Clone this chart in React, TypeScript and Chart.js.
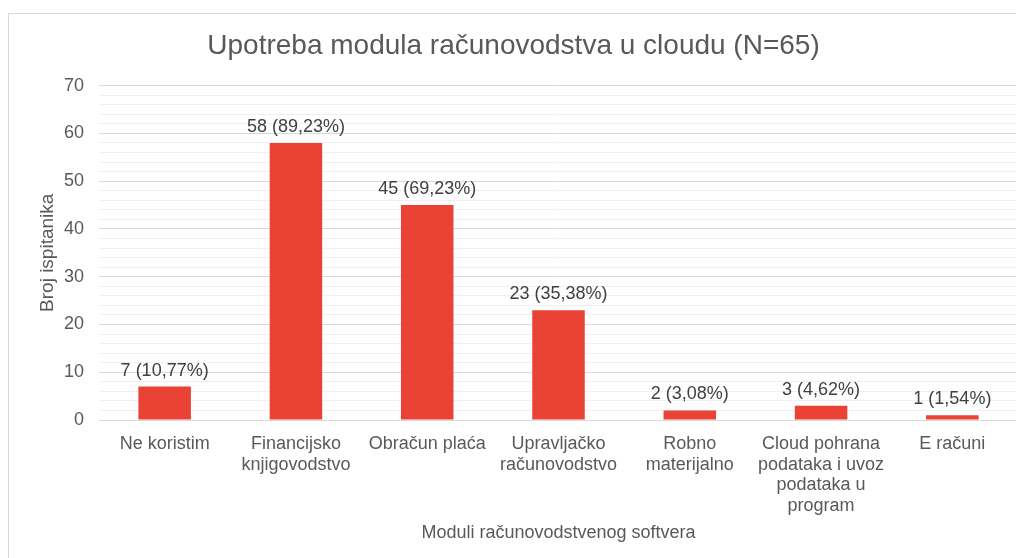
import React, { useEffect, useRef } from "react";
import { Chart, registerables } from "chart.js";

Chart.register(...registerables);

const categories: string[][] = [
  ["Ne koristim"],
  ["Financijsko", "knjigovodstvo"],
  ["Obračun plaća"],
  ["Upravljačko", "računovodstvo"],
  ["Robno", "materijalno"],
  ["Cloud pohrana", "podataka i uvoz", "podataka u", "program"],
  ["E računi"],
];
const counts: number[] = [7, 58, 45, 23, 2, 3, 1];
const percents: string[] = ["10,77%", "89,23%", "69,23%", "35,38%", "3,08%", "4,62%", "1,54%"];
const titleText = "Upotreba modula računovodstva u cloudu (N=65)";
const yTitle = "Broj ispitanika";
const xTitle = "Moduli računovodstvenog softvera";

const FONT = "'Liberation Sans', Arial, sans-serif";
const GRAY = "#595959";

const labelPlugin = {
  id: "barLabels",
  afterDatasetsDraw(chart: any) {
    const ctx = chart.ctx;
    const meta = chart.getDatasetMeta(0);
    ctx.save();
    ctx.font = `18px ${FONT}`;
    ctx.fillStyle = "#404040";
    ctx.textAlign = "center";
    ctx.textBaseline = "alphabetic";
    meta.data.forEach((bar: any, i: number) => {
      ctx.fillText(`${counts[i]} (${percents[i]})`, bar.x, bar.y - 11);
    });
    ctx.restore();
  },
};

export default function App() {
  const ref = useRef<HTMLCanvasElement | null>(null);
  useEffect(() => {
    if (!ref.current) return;
    const chart = new Chart(ref.current, {
      type: "bar",
      data: {
        labels: categories,
        datasets: [
          {
            data: counts,
            backgroundColor: "#EA4335",
            barPercentage: 0.4,
            categoryPercentage: 1,
          },
        ],
      },
      options: {
        animation: false,
        responsive: false,
        maintainAspectRatio: false,
        layout: { padding: { left: 0, right: 6, top: 0, bottom: 0 } },
        plugins: {
          legend: { display: false },
          tooltip: { enabled: false },
          title: {
            display: true,
            text: titleText,
            color: GRAY,
            font: { family: FONT, size: 28, weight: "normal" },
            padding: { top: 15, bottom: 23 },
          },
        },
        scales: {
          x: {
            grid: { display: false },
            border: { display: false },
            ticks: {
              color: GRAY,
              font: { family: FONT, size: 18, lineHeight: 1.14 },
              padding: 6,
              maxRotation: 0,
              autoSkip: false,
            },
            title: {
              display: true,
              text: xTitle,
              color: GRAY,
              font: { family: FONT, size: 18 },
              padding: { top: 4, bottom: 14 },
            },
            afterFit: (s: any) => {
              s.height = 138;
            },
          },
          y: {
            min: 0,
            max: 70,
            border: { display: false },
            grid: {
              drawTicks: false,
              color: (c: any) => (c.tick && c.tick.value % 10 === 0 ? "#d9d9d9" : "#f0f0f0"),
              lineWidth: 1,
            },
            ticks: {
              stepSize: 2,
              color: GRAY,
              font: { family: FONT, size: 18 },
              padding: 15,
              autoSkip: false,
              callback: (v: any) => (Number(v) % 10 === 0 ? String(v) : ""),
            },
            title: {
              display: true,
              text: yTitle,
              color: GRAY,
              font: { family: FONT, size: 19 },
              padding: { top: 27, bottom: 4 },
            },
            afterFit: (s: any) => {
              s.width = 90;
            },
          },
        },
      },
      plugins: [labelPlugin],
    });
    return () => chart.destroy();
  }, []);
  return (
    <div
      style={{
        marginTop: 5,
        width: 1016,
        height: 545,
        borderTop: "1px solid #d9d9d9",
        borderLeft: "1px solid #d9d9d9",
        boxSizing: "border-box",
        overflow: "hidden",
      }}
    >
      <canvas ref={ref} width={1015} height={544} style={{ display: "block" }} />
    </div>
  );
}
